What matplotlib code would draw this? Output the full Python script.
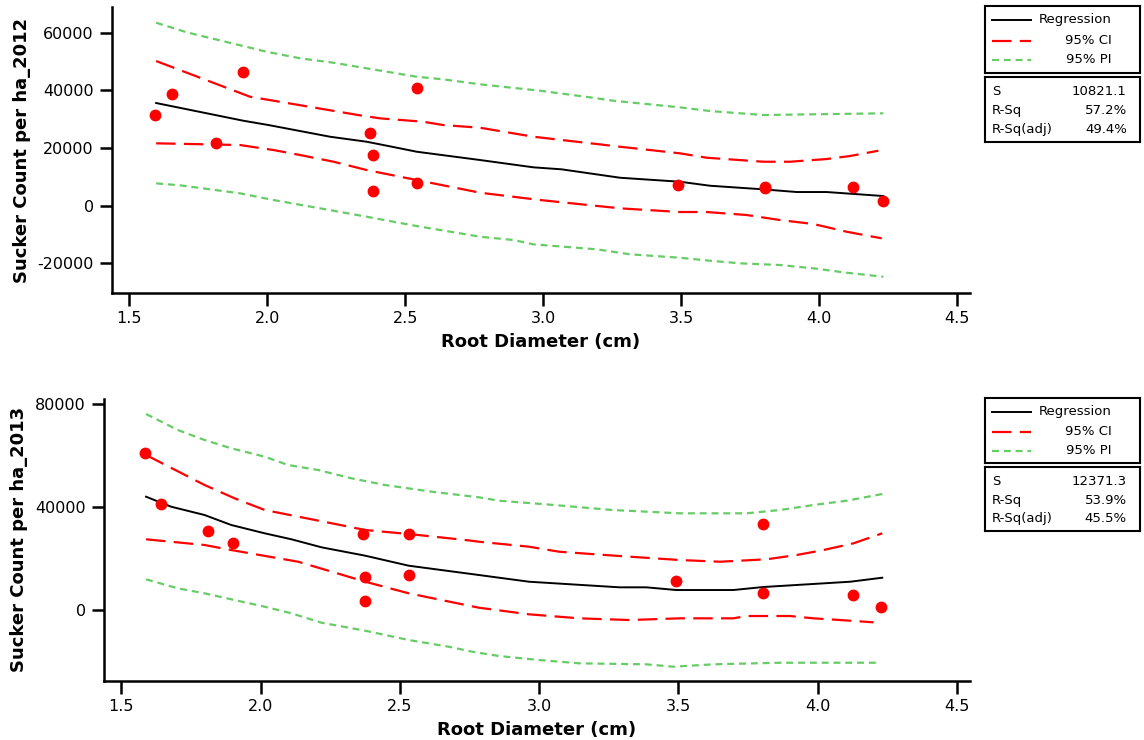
import numpy as np
import matplotlib
matplotlib.use('Agg')
from matplotlib import pyplot as plt

plt.rcParams['font.family'] = ['DejaVu Sans']
plt.rcParams['lines.scale_dashes'] = False

# ---- 2012 data ----
x12 = [1.595, 1.655, 1.815, 1.912, 2.373, 2.382, 2.382, 2.542, 2.542, 3.490, 3.805, 3.805, 4.122, 4.232]
y12 = [31600, 38600, 21800, 46300, 25300, 17700, 5100, 40700, 7900, 7200, 6500, 6300, 6500, 1600]

reg12_x = [1.598, 1.914, 2.005, 2.228, 2.361, 2.434, 2.542, 2.772, 2.965, 3.067, 3.279, 3.496, 3.605, 3.798, 3.919, 4.028, 4.233]
reg12_y = [35600, 29460, 27970, 23920, 22180, 20800, 18720, 15840, 13310, 12620, 9700, 8320, 6930, 5680, 4750, 4750, 3360]

ciu12_x = [1.598, 1.938, 2.330, 2.409, 2.566, 2.638, 2.772, 2.965, 3.279, 3.496, 3.593, 3.798, 3.895, 4.028, 4.112, 4.215]
ciu12_y = [50150, 37780, 31440, 30290, 29110, 27970, 27030, 23920, 20450, 18160, 16640, 15250, 15250, 16190, 17230, 19060]

cil12_x = [1.598, 1.902, 2.023, 2.120, 2.241, 2.361, 2.542, 2.772, 2.989, 3.279, 3.496, 3.593, 3.738, 3.859, 3.980, 4.100, 4.227]
cil12_y = [21630, 21040, 19310, 17570, 15250, 12370, 8910, 4510, 1980, -900, -2180, -2180, -3220, -4960, -6340, -9010, -11300]

piu12_x = [1.598, 1.709, 1.998, 2.120, 2.241, 2.361, 2.542, 2.638, 2.772, 2.989, 3.170, 3.255, 3.496, 3.605, 3.798, 4.233]
piu12_y = [63430, 60100, 53380, 51090, 49560, 47620, 44710, 43810, 42080, 39860, 37570, 36390, 34100, 32820, 31440, 32030]

pil12_x = [1.598, 1.685, 1.902, 2.023, 2.192, 2.361, 2.542, 2.772, 2.893, 2.965, 3.195, 3.315, 3.496, 3.605, 3.714, 3.859, 3.980, 4.100, 4.233]
pil12_y = [7760, 7070, 4300, 1980, -900, -3810, -7040, -10740, -11890, -13380, -15110, -16840, -18020, -19060, -19960, -20550, -21700, -23220, -24610]

# ---- 2013 data ----
x13 = [1.584, 1.643, 1.811, 1.900, 2.367, 2.374, 2.374, 2.534, 2.534, 3.491, 3.805, 3.805, 4.127, 4.229]
y13 = [60800, 41100, 30700, 26100, 29300, 12700, 3400, 29300, 13600, 11300, 33200, 6500, 5700, 900]

reg13_x = [1.589, 1.679, 1.799, 1.895, 2.015, 2.111, 2.219, 2.376, 2.532, 2.784, 2.964, 3.289, 3.385, 3.493, 3.697, 3.805, 4.117, 4.232]
reg13_y = [43960, 40070, 36840, 32950, 29720, 27390, 24270, 21010, 17120, 13500, 10890, 8710, 8710, 7660, 7660, 8830, 10890, 12450]

ciu13_x = [1.589, 1.643, 1.799, 1.907, 2.015, 2.256, 2.376, 2.532, 2.736, 2.784, 2.964, 3.072, 3.289, 3.505, 3.649, 3.817, 3.925, 4.021, 4.129, 4.232]
ciu13_y = [60180, 57180, 48510, 43330, 38780, 33610, 31000, 29450, 27110, 26450, 24510, 22560, 20890, 19330, 18670, 19610, 21280, 23220, 25830, 29720]

cil13_x = [1.589, 1.799, 1.895, 2.135, 2.256, 2.376, 2.532, 2.784, 2.964, 3.144, 3.324, 3.505, 3.697, 3.745, 3.901, 3.985, 4.081, 4.201]
cil13_y = [27390, 25170, 23220, 18670, 14780, 10890, 6380, 780, -1790, -3350, -4010, -3350, -3350, -2450, -2450, -3350, -4010, -4900]

piu13_x = [1.589, 1.703, 1.799, 1.895, 2.015, 2.099, 2.207, 2.327, 2.447, 2.615, 2.784, 2.856, 3.024, 3.264, 3.505, 3.745, 3.865, 3.985, 4.105, 4.232]
piu13_y = [76130, 69900, 66010, 62780, 59520, 56290, 54340, 51100, 48510, 45900, 43720, 42400, 41000, 38780, 37500, 37500, 38780, 40730, 42400, 45010]

pil13_x = [1.589, 1.703, 1.799, 1.895, 2.015, 2.111, 2.219, 2.376, 2.532, 2.676, 2.760, 2.856, 3.000, 3.144, 3.385, 3.481, 3.625, 3.865, 4.219]
pil13_y = [11830, 8320, 6380, 4050, 1170, -1400, -5060, -8170, -11790, -14390, -16340, -18010, -19570, -20850, -21240, -22170, -21240, -20620, -20620]

stats12 = [('S', '10821.1'), ('R-Sq', '57.2%'), ('R-Sq(adj)', '49.4%')]
stats13 = [('S', '12371.3'), ('R-Sq', '53.9%'), ('R-Sq(adj)', '45.5%')]

RED = '#ff0000'
GREEN = '#66cc66'
RED_DASH = (14, 6)
GREEN_DASH = (5, 3.5)

fig = plt.figure(figsize=(11.44, 7.40), dpi=100)


def panel(rect, px, py, reg, ciu, cil, piu, pil, ylim, yticks, ylabel):
    ax = fig.add_axes(rect)
    ax.plot(*piu, color=GREEN, lw=1.6, dashes=GREEN_DASH)
    ax.plot(*pil, color=GREEN, lw=1.6, dashes=GREEN_DASH)
    ax.plot(*ciu, color=RED, lw=1.6, dashes=RED_DASH)
    ax.plot(*cil, color=RED, lw=1.6, dashes=RED_DASH)
    ax.plot(*reg, color='black', lw=1.4)
    ax.plot(px, py, 'o', color=RED, ms=7.5, mec=RED)
    ax.set_xlim(1.438, 4.547)
    ax.set_ylim(*ylim)
    ax.set_xticks([1.5, 2.0, 2.5, 3.0, 3.5, 4.0, 4.5])
    ax.set_xticklabels(['1.5', '2.0', '2.5', '3.0', '3.5', '4.0', '4.5'])
    ax.set_yticks(yticks)
    ax.set_yticklabels([str(v) for v in yticks])
    for s in ['top', 'right']:
        ax.spines[s].set_visible(False)
    for s in ['left', 'bottom']:
        ax.spines[s].set_linewidth(1.8)
    ax.tick_params(length=9, width=1.8, labelsize=11.5, pad=4)
    ax.set_xlabel('Root Diameter (cm)', fontsize=13, fontweight='bold', labelpad=5)
    ax.set_ylabel(ylabel, fontsize=13, fontweight='bold', labelpad=5)
    return ax


def boxes(leg_rect, st_rect, stats):
    lg = fig.add_axes(leg_rect)
    lg.set_xlim(0, 1)
    lg.set_ylim(0, 1)
    lg.set_xticks([])
    lg.set_yticks([])
    for s in lg.spines.values():
        s.set_linewidth(1.5)
    rows = [('Regression', 'black', None, 0.79),
            ('95% CI', RED, RED_DASH, 0.48),
            ('95% PI', GREEN, GREEN_DASH, 0.19)]
    for lab, c, d, yy in rows:
        if d is None:
            lg.plot([0.045, 0.30], [yy, yy], color=c, lw=1.4)
        else:
            lg.plot([0.045, 0.30], [yy, yy], color=c, lw=1.6, dashes=d)
        lg.text(0.815, yy, lab, ha='right', va='center', fontsize=9.5)

    st = fig.add_axes(st_rect)
    st.set_xticks([])
    st.set_yticks([])
    for s in st.spines.values():
        s.set_linewidth(1.5)
    for (lab, val), yy in zip(stats, [0.77, 0.48, 0.19]):
        st.text(0.045, yy, lab, ha='left', va='center', fontsize=9.5, transform=st.transAxes)
        st.text(0.915, yy, val, ha='right', va='center', fontsize=9.5, transform=st.transAxes)


panel([0.0979, 0.604, 0.75, 0.3865], x12, y12,
      (reg12_x, reg12_y), (ciu12_x, ciu12_y), (cil12_x, cil12_y),
      (piu12_x, piu12_y), (pil12_x, pil12_y),
      (-30260, 68870), [-20000, 0, 20000, 40000, 60000], 'Sucker Count per ha_2012')
boxes([0.861, 0.9018, 0.1355, 0.0901], [0.861, 0.8085, 0.1355, 0.0874], stats12)

panel([0.0909, 0.0801, 0.757, 0.3807], x13, y13,
      (reg13_x, reg13_y), (ciu13_x, ciu13_y), (cil13_x, cil13_y),
      (piu13_x, piu13_y), (pil13_x, pil13_y),
      (-27620, 81960), [0, 40000, 80000], 'Sucker Count per ha_2013')
boxes([0.861, 0.3743, 0.1355, 0.0878], [0.861, 0.2824, 0.1355, 0.0865], stats13)

fig.savefig('out.png', dpi=100)
